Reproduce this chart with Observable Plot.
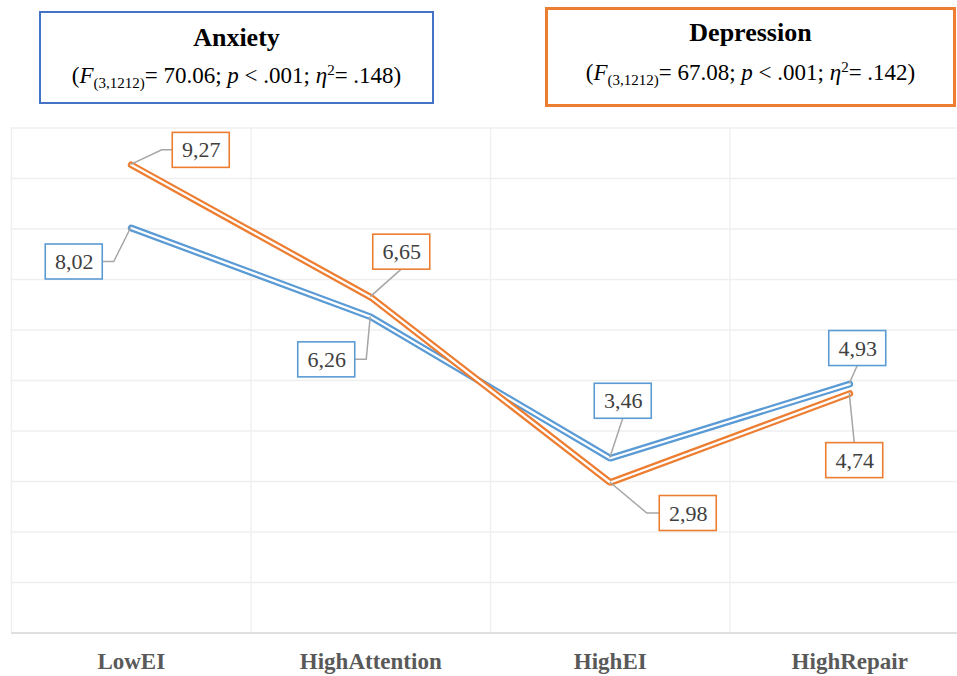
<!DOCTYPE html>
<html>
<head>
<meta charset="utf-8">
<script src="https://cdn.jsdelivr.net/npm/d3@7"></script>
<script src="https://cdn.jsdelivr.net/npm/@observablehq/plot@0.6"></script>
<style>
  html, body { margin: 0; padding: 0; background: #fff; }
  #wrap { position: relative; width: 957px; height: 676px; overflow: hidden; font-family: 'Liberation Serif', 'Times New Roman', serif; }
  .tbox { position: absolute; box-sizing: border-box; background: #fff; border-style: solid; color: #000; text-align: center; }
  .tbox .t1 { position: absolute; left: 0; right: 0; font-weight: bold; font-size: 26px; line-height: 1; }
  .tbox .t2 { position: absolute; left: 0; right: 0; font-size: 23px; line-height: 1; white-space: nowrap; }
  .tbox sub { font-size: 15px; vertical-align: -5px; line-height: 0; }
  .tbox sup { font-size: 15px; vertical-align: 8px; line-height: 0; }
  #chart { position: absolute; left: 0; top: 0; }
  #chart svg text { font-family: 'Liberation Serif', 'Times New Roman', serif !important; }
</style>
</head>
<body>
<div id="wrap">
  <div id="chart"></div>
</div>
<script>
// ---- data ----
const categories = ["LowEI", "HighAttention", "HighEI", "HighRepair"];
const seriesNames = ["Anxiety", "Depression"];
const anxiety = [8.02, 6.26, 3.46, 4.93];
const depression = [9.27, 6.65, 2.98, 4.74];
const anxietyLabels = ["8,02", "6,26", "3,46", "4,93"];
const depressionLabels = ["9,27", "6,65", "2,98", "4,74"];
const fValues = ["70.06", "67.08"];
const etaValues = [".148", ".142"];
const yTicks = [0, 1, 2, 3, 4, 5, 6, 7, 8, 9, 10];

// ---- layout (pixel offsets of data-label boxes and leader elbows, relative to the point) ----
const anxietyLabelLayout = [
  {dx: -57, dy: 34, leader: [[-17, 34], [-28.5, 34]]},
  {dx: -44, dy: 43, leader: [[-4, 43], [-15.5, 43]]},
  {dx: 13, dy: -57, leader: [[13, -39.5]]},
  {dx: 8, dy: -35.5, leader: [[8, -18]]}
];
const depressionLabelLayout = [
  {dx: 70, dy: -14.5, leader: [[31, -14.5], [41.5, -14.5]]},
  {dx: 31, dy: -45, leader: [[31, -27.5]]},
  {dx: 78, dy: 31, leader: [[37, 31], [49.5, 31]]},
  {dx: 5, dy: 67, leader: [[5, 49.5]]}
];

const colors = {Anxiety: "#5B9BD5", Depression: "#ED7D31"};
const boxColors = {Anxiety: "#4472C4", Depression: "#ED7D31"};
const serif = "'Liberation Serif', 'Times New Roman', serif";

// ---- title boxes ----
const wrap = document.getElementById("wrap");
const boxSpecs = [
  {left: 39, top: 11, width: 395, height: 93, border: 2.5, t1: 12, t2: 51},
  {left: 545, top: 7, width: 411, height: 100, border: 3, t1: 10, t2: 51}
];
seriesNames.forEach((name, k) => {
  const s = boxSpecs[k];
  const div = document.createElement("div");
  div.className = "tbox";
  Object.assign(div.style, {
    left: s.left + "px", top: s.top + "px", width: s.width + "px", height: s.height + "px",
    borderWidth: s.border + "px", borderColor: boxColors[name]
  });
  div.innerHTML =
    `<div class="t1" style="top:${s.t1}px">${name}</div>` +
    `<div class="t2" style="top:${s.t2}px">(<i>F</i><sub>(3,1212)</sub>= ${fValues[k]}; <i>p</i> &lt; .001; <i>η</i><sup>2</sup>= ${etaValues[k]})</div>`;
  wrap.appendChild(div);
});

// ---- build tables ----
const rows = [];
const labelRows = [];
[[anxiety, anxietyLabels, anxietyLabelLayout, "Anxiety"], [depression, depressionLabels, depressionLabelLayout, "Depression"]]
  .forEach(([vals, labs, lay, name]) => {
    vals.forEach((v, i) => {
      rows.push({series: name, category: categories[i], i, value: v});
      labelRows.push({series: name, i, value: v, label: labs[i], ...lay[i]});
    });
  });
const boundaries = categories.map((c, i) => i - 0.5);

// ---- leader-line mark (uses the plot's own scales) ----
function leaderMark(index, scales) {
  const sx = typeof scales.x === "function" ? scales.x : scales.scales.x.apply;
  const sy = typeof scales.y === "function" ? scales.y : scales.scales.y.apply;
  const g = d3.create("svg:g");
  for (const L of labelRows) {
    const px = sx(L.i), py = sy(L.value);
    const pts = [[px, py], ...L.leader.map(([a, b]) => [px + a, py + b])];
    g.append("path")
      .attr("d", d3.line()(pts))
      .attr("fill", "none")
      .attr("stroke", "#A6A6A6")
      .attr("stroke-width", 1.5);
  }
  return g.node();
}

const labelMarks = [];
for (const L of labelRows) {
  labelMarks.push(
    Plot.rect([L], {
      x1: "i", x2: "i", y1: "value", y2: "value",
      insetLeft: -28.5, insetRight: -28.5, insetTop: -17.5, insetBottom: -17.5,
      dx: L.dx, dy: L.dy,
      fill: "white", stroke: colors[L.series], strokeWidth: 1.6
    }),
    Plot.text([L], {
      x: "i", y: "value", text: "label", dx: L.dx, dy: L.dy,
      fontSize: 22, fontFamily: serif, fill: "#404040"
    })
  );
}

const lineMarks = [];
for (const name of seriesNames) {
  const data = rows.filter(d => d.series === name);
  lineMarks.push(
    Plot.line(data, {x: "i", y: "value", stroke: colors[name], strokeWidth: 6.8, strokeLinejoin: "miter"}),
    Plot.line(data, {x: "i", y: "value", stroke: "white", strokeWidth: 2.3, strokeLinejoin: "miter"})
  );
}

const chart = Plot.plot({
  width: 957,
  height: 676,
  x: {domain: [-0.5, 3.5], range: [11, 969], axis: null},
  y: {domain: [0, 10], range: [632.5, 127.5], axis: null},
  style: {background: "white", overflow: "visible", fontFamily: serif},
  marks: [
    Plot.ruleY(yTicks, {y: d => d, x1: -0.5, x2: 3.5, stroke: "#EFEFEF", strokeWidth: 1.4}),
    Plot.ruleX(boundaries, {x: d => d, y1: 0, y2: 10, stroke: "#EFEFEF", strokeWidth: 1.4}),
    Plot.ruleY([0], {x1: -0.5, x2: 3.5, stroke: "#D9D9D9", strokeWidth: 1.4}),
    Plot.text(categories, {
      x: (d, i) => i, y: () => 0, text: d => d, dy: 35.5, lineAnchor: "bottom",
      fontSize: 23, fontWeight: "bold", fontFamily: serif, fill: "#595959"
    }),
    ...lineMarks,
    leaderMark,
    ...labelMarks
  ]
});
document.getElementById("chart").appendChild(chart);
// keep the title boxes on top of the svg
wrap.querySelectorAll(".tbox").forEach(b => wrap.appendChild(b));
</script>
</body>
</html>
